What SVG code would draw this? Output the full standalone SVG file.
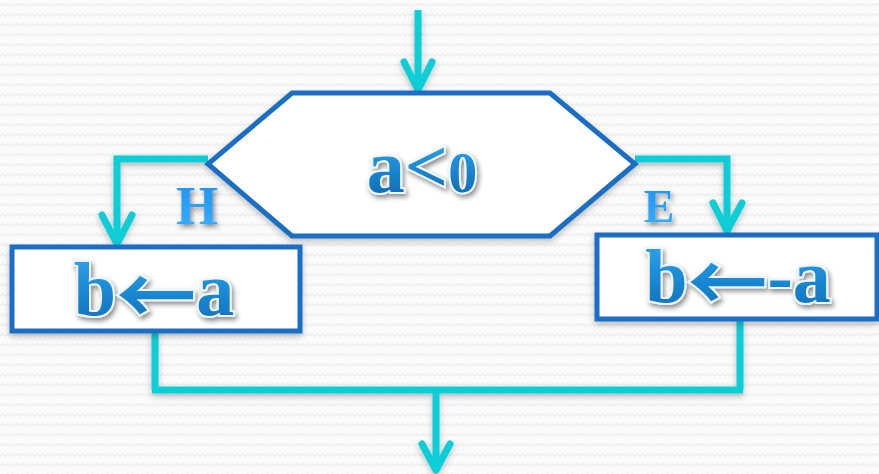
<svg xmlns="http://www.w3.org/2000/svg" width="879" height="474" viewBox="0 0 879 474">
<defs>
<pattern id="bg" width="10" height="10" patternUnits="userSpaceOnUse">
<rect width="10" height="10" fill="#fbfbfb"/>
<path d="M0 6 L2.5 3.5 L5 6 L7.5 3.5 L10 6" fill="none" stroke="#ececec" stroke-width="1.2"/>
</pattern>
<linearGradient id="tg" x1="0" y1="0" x2="0" y2="1">
<stop offset="0" stop-color="#3db4f5"/>
<stop offset="0.5" stop-color="#1b8ad6"/>
<stop offset="1" stop-color="#0b5fa8"/>
</linearGradient>
<linearGradient id="lg" x1="0" y1="0" x2="0" y2="1">
<stop offset="0" stop-color="#1e90f0"/>
<stop offset="1" stop-color="#3bb0ff"/>
</linearGradient>
<filter id="sh" x="-20%" y="-20%" width="140%" height="150%">
<feDropShadow dx="2" dy="3" stdDeviation="2.5" flood-color="#000" flood-opacity="0.45"/>
</filter>
<filter id="bsh" x="-10%" y="-10%" width="120%" height="130%">
<feDropShadow dx="0" dy="3" stdDeviation="3" flood-color="#000" flood-opacity="0.25"/>
</filter>
</defs>
<style>
.shape{fill:#ffffff;stroke:#1a6ec5;stroke-width:5;stroke-linejoin:miter}
.con{fill:none;stroke:#0bcdd6;stroke-width:7;stroke-linecap:butt;stroke-linejoin:miter}
.head{fill:none;stroke:#0bcdd6;stroke-width:7;stroke-linecap:round;stroke-linejoin:round}
.big{font-family:"Liberation Serif","DejaVu Serif",serif;font-weight:bold;font-size:76px;fill:url(#tg);stroke:#eef6fb;stroke-width:4;paint-order:stroke;text-anchor:middle}
.arr{font-family:"Noto Sans CJK SC","DejaVu Sans",sans-serif;font-weight:bold;font-size:80px}
.lbl{font-family:"Liberation Serif","DejaVu Serif",serif;font-weight:bold;fill:url(#lg);text-anchor:middle}
</style>
<rect width="879" height="474" fill="url(#bg)"/>

<g id="connectors" filter="url(#bsh)">
<path class="con" d="M418 10 V90"/>
<path class="head" d="M404 62 L418 90 L432 62"/>
<path class="con" d="M208 159 H117 V244"/>
<path class="head" d="M102 215 L117 244 L132 215"/>
<path class="con" d="M635 159 H727 V231"/>
<path class="head" d="M713 203 L727 231 L742 203"/>
<path class="con" d="M155 331 V390 M740 319 V390 M152 390 H743"/>
<path class="con" d="M436 390 V470"/>
<path class="head" d="M422 444 L436 470 L450 444"/>
</g>

<g id="decision">
<polygon class="shape" filter="url(#bsh)" points="292,93 550,93 635,164 550,236 292,236 208,164"/>
<text class="big" x="422" y="192" filter="url(#sh)">a&lt;<tspan font-size="58">0</tspan></text>
</g>

<g id="label-h">
<text class="lbl" x="197" y="224" font-size="54" filter="url(#sh)">H</text>
</g>
<g id="label-e">
<text class="lbl" x="659" y="222" font-size="46" filter="url(#sh)">E</text>
</g>

<g id="assign-left">
<rect class="shape" filter="url(#bsh)" x="12" y="247" width="288" height="84"/>
<text class="big" x="154" y="315" filter="url(#sh)">b<tspan class="arr" dy="10">←</tspan><tspan dy="-10">a</tspan></text>
</g>

<g id="assign-right">
<rect class="shape" filter="url(#bsh)" x="597" y="235" width="280" height="84"/>
<text class="big" x="738" y="302" filter="url(#sh)">b<tspan class="arr" dy="10">←</tspan><tspan dy="-10">-a</tspan></text>
</g>
</svg>
